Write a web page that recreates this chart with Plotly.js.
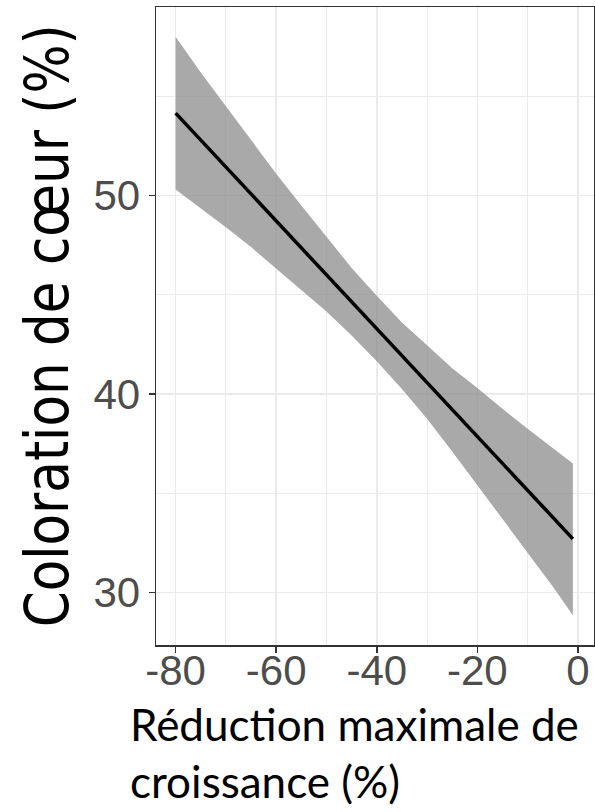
<!DOCTYPE html>
<html>
<head>
<meta charset="utf-8">
<script src="https://cdn.plot.ly/plotly-3.0.1.min.js"></script>
<style>html,body{margin:0;padding:0;background:#fff;}#chart{width:595px;height:812px;}</style>
</head>
<body>
<div id="chart"></div>
<script>
// Data
const xVals = [-80, -75, -70, -65, -60, -55, -50, -45, -40, -35, -30, -25, -20, -15, -10, -5, -1];
const fitVals = [54.15, 52.79, 51.43, 50.07, 48.72, 47.36, 46.0, 44.65, 43.29, 41.93, 40.58, 39.22, 37.86, 36.5, 35.15, 33.79, 32.7];
const upperVals = [58.0, 56.2, 54.5, 52.8, 51.1, 49.5, 47.9, 46.35, 44.95, 43.6, 42.45, 41.3, 40.3, 39.25, 38.25, 37.3, 36.5];
const lowerVals = [50.3, 49.35, 48.4, 47.4, 46.3, 45.25, 44.15, 42.95, 41.65, 40.25, 38.75, 37.1, 35.4, 33.75, 32.05, 30.3, 28.85];
const xTickVals = [-80, -60, -40, -20, 0];
const xTickText = ['-80', '-60', '-40', '-20', '0'];
const yTickVals = [30, 40, 50];
const yTickText = ['30', '40', '50'];
const xTitle = 'Réduction maximale de<br>croissance (%)';
const yTitle = 'Coloration de cœur (%)';

const traces = [
  {x: xVals, y: lowerVals, type: 'scatter', mode: 'lines', line: {width: 0, color: 'rgba(0,0,0,0)'}, hoverinfo: 'skip', showlegend: false},
  {x: xVals, y: upperVals, type: 'scatter', mode: 'lines', fill: 'tonexty', fillcolor: 'rgba(140,140,140,0.75)', line: {width: 0, color: 'rgba(0,0,0,0)'}, hoverinfo: 'skip', showlegend: false},
  {x: xVals, y: fitVals, type: 'scatter', mode: 'lines', line: {color: '#000000', width: 3.5}, showlegend: false}
];

const gridC = '#EBEBEB';
const layout = {
  width: 595, height: 812,
  margin: {l: 156, r: 1, t: 7, b: 167},
  paper_bgcolor: '#ffffff', plot_bgcolor: '#ffffff',
  showlegend: false,
  xaxis: {
    range: [-83.9, 3.2], tickmode: 'array', tickvals: xTickVals, ticktext: xTickText,
    showgrid: true, gridcolor: gridC, gridwidth: 1.6,
    minor: {tickmode: 'array', tickvals: [-70, -50, -30, -10], showgrid: true, gridcolor: gridC, gridwidth: 1, ticks: ''},
    zeroline: false, showline: true, mirror: true, linecolor: '#333333', linewidth: 1.5,
    ticks: 'outside', ticklen: 6, tickwidth: 1.5, tickcolor: '#333333', ticklabelstandoff: -18,
    tickfont: {family: 'Liberation Sans, Arial, sans-serif', size: 42, color: '#4D4D4D'}
  },
  yaxis: {
    range: [27.35, 59.5], tickmode: 'array', tickvals: yTickVals, ticktext: yTickText,
    showgrid: true, gridcolor: gridC, gridwidth: 1.6,
    minor: {tickmode: 'array', tickvals: [35, 45, 55], showgrid: true, gridcolor: gridC, gridwidth: 1, ticks: ''},
    zeroline: false, showline: true, mirror: true, linecolor: '#333333', linewidth: 1.5,
    ticks: 'outside', ticklen: 6, tickwidth: 1.5, tickcolor: '#333333',
    tickfont: {family: 'Liberation Sans, Arial, sans-serif', size: 42, color: '#4D4D4D'}
  },
  annotations: [
    {text: xTitle, xref: 'paper', yref: 'paper', x: -0.064, y: -0.08, xanchor: 'left', yanchor: 'top', align: 'left', showarrow: false,
     font: {family: 'Lato, Open Sans, sans-serif', size: 44, color: '#000000'}},
    {text: yTitle, xref: 'paper', yref: 'paper', x: -0.252, y: 0.5, xanchor: 'center', yanchor: 'middle', textangle: -90, showarrow: false,
     font: {family: 'Liberation Sans Narrow, DejaVu Sans Condensed, Liberation Sans, sans-serif', size: 61, color: '#000000'}}
  ]
};

Plotly.newPlot('chart', traces, layout, {displayModeBar: false, staticPlot: true}).then(function () {
  try {
    const anns = document.querySelectorAll('.annotation-text');
    if (anns.length > 1) {
      const t = anns[1];
      t.setAttribute('textLength', '603');
      t.setAttribute('lengthAdjust', 'spacingAndGlyphs');
    }
  } catch (e) {}
});
</script>
</body>
</html>
